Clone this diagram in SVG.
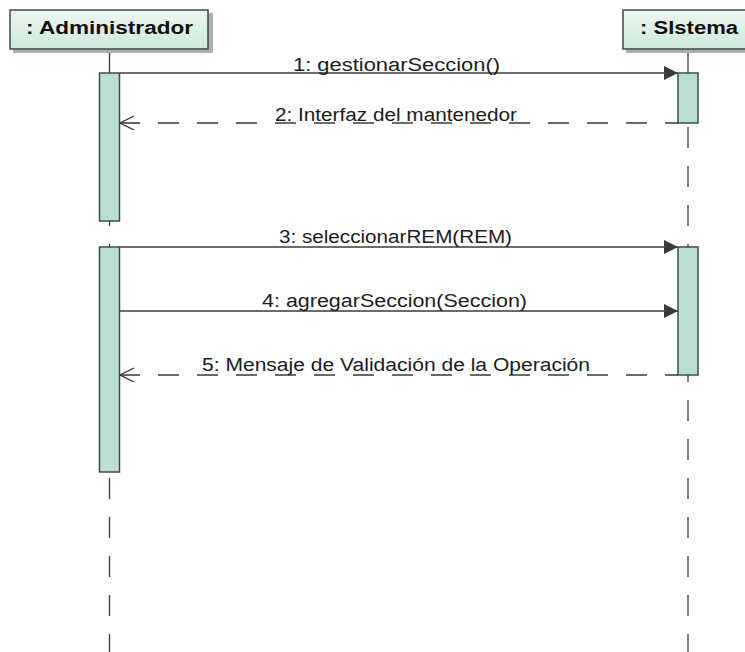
<svg xmlns="http://www.w3.org/2000/svg" width="745" height="652" viewBox="0 0 745 652">
  <style>
    .head { fill: url(#headFill); stroke: #3d4a45; stroke-width: 1.5; }
    .shadow { fill: #a9b0ad; }
    .title { font-family: "Liberation Sans", Arial, sans-serif; font-weight: bold; font-size: 18px; fill: #111; }
    .life { stroke: #3a3a3a; stroke-width: 1.3; fill: none; }
    .dash { stroke-dasharray: 21 18; }
    .bar { fill: #b9dfcf; stroke: #3f4d47; stroke-width: 1.5; }
    .msg { stroke: #3a3a3a; stroke-width: 1.3; fill: none; }
    .call { marker-end: url(#solidHead); }
    .reply { stroke-dasharray: 21 18; stroke-dashoffset: 8; marker-end: url(#openHead); }
    .label { font-family: "Liberation Sans", Arial, sans-serif; font-size: 18px; fill: #1c1c1c; }
  </style>
  <defs>
    <linearGradient id="headFill" x1="0" y1="0" x2="0" y2="1">
      <stop offset="0" stop-color="#ecf7f1"/>
      <stop offset="1" stop-color="#cde8db"/>
    </linearGradient>
    <marker id="solidHead" markerUnits="userSpaceOnUse" markerWidth="15" markerHeight="14" refX="14" refY="7" orient="auto">
      <path d="M0,0 L14,7 L0,14 z" fill="#3a3a3a"/>
    </marker>
    <marker id="openHead" markerUnits="userSpaceOnUse" markerWidth="16" markerHeight="16" refX="14" refY="7" orient="auto">
      <path d="M0,0 L14,7 L0,14" fill="none" stroke="#3a3a3a" stroke-width="1.3"/>
    </marker>
  </defs>

  <rect width="745" height="652" fill="#ffffff"/>

  <!-- lifelines -->
  <g id="lifelines">
    <line class="life" x1="109.5" y1="50" x2="109.5" y2="73"/>
    <line class="life dash" x1="109.5" y1="127" x2="109.5" y2="652"/>
    <line class="life" x1="688" y1="50" x2="688" y2="73"/>
    <line class="life dash" x1="688" y1="127" x2="688" y2="652"/>
  </g>

  <!-- participant: Administrador -->
  <g id="administrador">
    <rect class="shadow" x="13" y="13" width="200" height="40"/>
    <rect class="head" x="10" y="10" width="198" height="39"/>
    <text class="title" x="26" y="34" textLength="167" lengthAdjust="spacingAndGlyphs">: Administrador</text>
    <rect class="bar" x="99.5" y="73" width="20" height="148"/>
    <rect class="bar" x="99.5" y="247" width="20" height="225"/>
  </g>

  <!-- participant: Sistema -->
  <g id="sistema">
    <rect class="shadow" x="626" y="13" width="125" height="40"/>
    <rect class="head" x="623" y="10" width="130" height="39"/>
    <text class="title" x="640" y="34" textLength="98" lengthAdjust="spacingAndGlyphs">: SIstema</text>
    <rect class="bar" x="678" y="73" width="20" height="50"/>
    <rect class="bar" x="678" y="247" width="20" height="128"/>
  </g>

  <!-- messages -->
  <g id="connectors">
    <line class="msg call" x1="120" y1="73" x2="678" y2="73"/>
    <line class="msg reply" x1="678" y1="123" x2="120" y2="123"/>
    <line class="msg call" x1="120" y1="247" x2="678" y2="247"/>
    <line class="msg call" x1="120" y1="311" x2="678" y2="311"/>
    <line class="msg reply" x1="678" y1="375" x2="120" y2="375"/>
  </g>

  <g id="labels">
    <text class="label" x="293" y="71" textLength="207" lengthAdjust="spacingAndGlyphs">1: gestionarSeccion()</text>
    <text class="label" x="275" y="121" textLength="242" lengthAdjust="spacingAndGlyphs">2: Interfaz del mantenedor</text>
    <text class="label" x="279" y="243" textLength="233" lengthAdjust="spacingAndGlyphs">3: seleccionarREM(REM)</text>
    <text class="label" x="262" y="307" textLength="265" lengthAdjust="spacingAndGlyphs">4: agregarSeccion(Seccion)</text>
    <text class="label" x="202" y="371" textLength="388" lengthAdjust="spacingAndGlyphs">5: Mensaje de Validación de la Operación</text>
  </g>
</svg>
